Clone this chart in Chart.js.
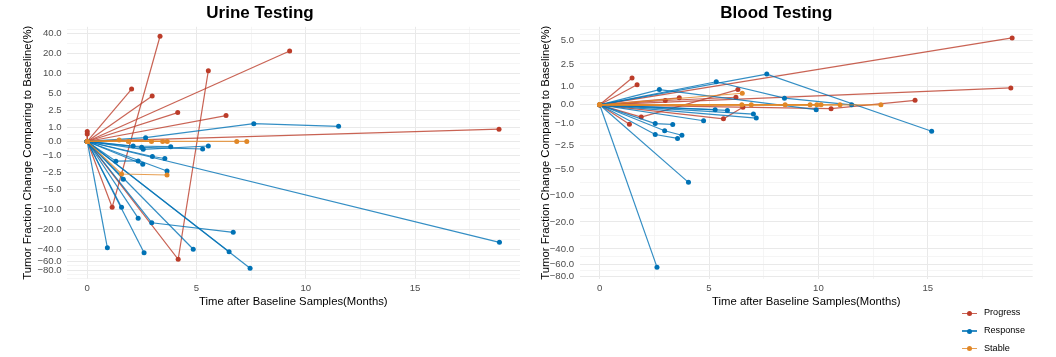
<!DOCTYPE html>
<html><head><meta charset="utf-8">
<script src="https://cdn.jsdelivr.net/npm/chart.js@4/dist/chart.umd.min.js"></script>
<style>
html,body{margin:0;padding:0;background:#fff;width:1056px;height:357px;overflow:hidden;position:relative;font-family:"Liberation Sans",Arial,sans-serif}
canvas{position:absolute;top:0}
#legend{position:absolute;left:955px;top:304.4px;font-size:9.1px;color:#000}
.item{position:relative;height:17.8px;line-height:17.8px;padding-left:29px;white-space:nowrap}
.key{position:absolute;left:7px;top:8.3px;width:15px;height:1.2px}
.dot{position:absolute;left:12px;top:6.4px;width:5px;height:5px;border-radius:50%}
</style></head><body>
<canvas id="c1" width="580" height="310" style="left:0px"></canvas>
<canvas id="c2" width="554" height="310" style="left:520px"></canvas>
<div id="legend"></div>
<script>
// ---- data (time in months, tumor fraction change in %) ----
const groups = ['Progress', 'Response', 'Stable'];
const groupColors = ['#BC3C29', '#0072B5', '#E18727'];
const lineColors = ['rgba(188,60,41,0.8)', 'rgba(0,114,181,0.8)', 'rgba(225,135,39,0.8)'];
const yBreaks = [-80, -60, -40, -20, -10, -5, -2.5, -1, 0, 1, 2.5, 5, 10, 20, 40];
const xBreaks = [0, 5, 10, 15];

const urineProgress = [
  [[0,0],[1.14,-9.3],[3.33,36.1]],
  [[0,0],[4.16,-55.5],[5.54,11.1]],
  [[0,0],[2.03,5.8]],
  [[0,0],[2.97,4.5]],
  [[0,0],[9.26,21.8]],
  [[0,0],[4.14,2.3]],
  [[0,0],[6.35,2.0]],
  [[0,0],[18.84,0.86]],
  [[0,0],[0,0.69]],
  [[0,0],[0,0.52]]
];
const urineResponse = [
  [[0,0],[2.67,0.26],[7.62,1.29],[11.5,1.08]],
  [[0,0],[18.86,-31.1]],
  [[0,0],[2.1,-0.31],[3.82,-0.36]],
  [[0,0],[2.49,-0.4],[5.28,-0.52]],
  [[0,0],[2.56,-0.54],[5.54,-0.31]],
  [[0,0],[1.31,-1.45],[2.33,-1.43]],
  [[0,0],[2.54,-1.72]],
  [[0,0],[2.98,-1.07],[3.55,-1.23]],
  [[0,0],[3.65,-2.37]],
  [[0,0],[1.65,-3.35]],
  [[0,0],[1.57,-9.3]],
  [[0,0],[2.33,-13.6]],
  [[0,0],[2.95,-15.9],[6.68,-22.1]],
  [[0,0],[0.92,-37.3]],
  [[0,0],[2.6,-44.3]],
  [[0,0],[4.85,-39.4]],
  [[0,0],[6.49,-42.8]],
  [[0,0],[7.45,-75.4]]
];
const urineStable = [
  [[0,0],[1.46,0.1],[3.45,0]],
  [[0,0],[1.88,0],[2.94,0],[3.66,0]],
  [[0,0],[6.84,0],[7.3,0]],
  [[0,0],[1.57,-2.7],[3.65,-2.82]]
];

const bloodProgress = [
  [[0,0],[18.86,5.36]],
  [[0,0],[18.8,0.89]],
  [[0,0],[10.58,-0.2],[14.42,0.23]],
  [[0,0],[1.48,1.48]],
  [[0,0],[1.71,1.07]],
  [[0,0],[1.36,-1.04]],
  [[0,0],[1.9,-0.64],[6.32,0.8]],
  [[0,0],[5.66,-0.73],[6.55,-0.12]],
  [[0,0],[3.0,0.22],[6.23,0.39]],
  [[0,0],[3.64,0.36]]
];
const bloodResponse = [
  [[0,0],[7.64,1.74],[15.18,-1.46]],
  [[0,0],[5.33,1.25],[8.45,0.34],[11.52,0]],
  [[0,0],[2.73,0.8],[9.9,-0.25]],
  [[0,0],[5.28,-0.25]],
  [[0,0],[5.84,-0.29]],
  [[0,0],[4.75,-0.84]],
  [[0,0],[7.03,-0.48]],
  [[0,0],[7.16,-0.69]],
  [[0,0],[2.54,-1.0],[3.34,-1.05]],
  [[0,0],[2.97,-1.43],[3.76,-1.72]],
  [[0,0],[2.54,-1.67],[3.56,-1.94]],
  [[0,0],[4.06,-7.14]],
  [[0,0],[2.62,-63.7]]
];
const bloodStable = [
  [[0,0],[6.52,0.6]],
  [[0,0],[6.5,0],[9.62,0]],
  [[0,0],[6.93,0],[10.12,0]],
  [[0,0],[8.48,0],[12.86,0]],
  [[0,0],[9.93,0],[10.99,0]]
];

// ---- pseudo-log (base 2) axis transform ----
const FONT = '"Liberation Sans", Arial, sans-serif';
const trans = v => Math.asinh(v / 2) / Math.LN2;

function majorMinor(breaksT, min, max) {
  const b = breaksT.filter(t => t >= min - 1e-9 && t <= max + 1e-9);
  const bb = b.slice();
  const bd = bb[1] - bb[0];
  if (min < bb[0]) bb.unshift(bb[0] - bd);
  if (max > bb[bb.length - 1]) bb.push(bb[bb.length - 1] + bd);
  const minor = [];
  for (let i = 0; i < bb.length - 1; i++) minor.push((bb[i] + bb[i + 1]) / 2);
  minor.push(bb[0], bb[bb.length - 1]);
  const mn = minor.filter(t => t >= min && t <= max && !b.some(m => Math.abs(m - t) < 1e-9));
  return {major: b, ticks: b.concat(mn).sort((a, c) => a - c)};
}
function fmtY(v) {
  for (const b of yBreaks) {
    if (Math.abs(trans(b) - v) < 1e-7) {
      const s = Math.abs(b).toFixed(1);
      return b < 0 ? '\u2212' + s : s;
    }
  }
  return '';
}
const gridColor = c => (c.tick && c.tick.label === '') ? '#f1f1f1' : '#e9e9e9';
const gridWidth = c => (c.tick && c.tick.label === '') ? 0.7 : 1;

function makeChart(id, title, sets, cfg) {
  const datasets = [];
  sets.forEach((set, gi) => {
    set.forEach(traj => {
      datasets.push({
        label: groups[gi],
        data: traj.map(p => ({x: p[0], y: trans(p[1])})),
        showLine: true,
        borderColor: lineColors[gi],
        backgroundColor: groupColors[gi],
        pointBackgroundColor: groupColors[gi],
        pointBorderColor: groupColors[gi],
        pointBorderWidth: 0,
        pointRadius: 2.5,
        borderWidth: 1.2,
        order: 3 - gi,
        clip: false
      });
    });
  });
  const yT = majorMinor(yBreaks.map(trans), cfg.ymin, cfg.ymax);
  const xT = majorMinor(xBreaks, cfg.xmin, cfg.xmax);
  return new Chart(document.getElementById(id), {
    type: 'scatter',
    data: {datasets},
    options: {
      responsive: false, animation: false, events: [],
      layout: {padding: {left: 0, right: cfg.padR, top: 0, bottom: 0}},
      plugins: {
        legend: {display: false}, tooltip: {enabled: false},
        title: {display: true, text: title, color: '#000',
          font: {family: FONT, size: 17, weight: 'bold'}, padding: {top: 3, bottom: 3.4}}
      },
      scales: {
        x: {
          type: 'linear', min: cfg.xmin, max: cfg.xmax,
          afterBuildTicks: s => { s.ticks = xT.ticks.map(v => ({value: v})); },
          afterFit: s => { s.height = 31.3; },
          ticks: {autoSkip: false, maxRotation: 0, padding: 4, color: '#4d4d4d',
            font: {family: FONT, size: 9.6},
            callback: v => xBreaks.includes(v) ? String(v) : ''},
          grid: {drawTicks: false, color: gridColor, lineWidth: gridWidth},
          border: {display: false},
          title: {display: true, text: 'Time after Baseline Samples(Months)', color: '#000',
            font: {family: FONT, size: 11.3}, padding: {top: 0, bottom: 1.3}}
        },
        y: {
          type: 'linear', min: cfg.ymin, max: cfg.ymax,
          afterBuildTicks: s => { s.ticks = yT.ticks.map(v => ({value: v})); },
          afterFit: s => { s.width = cfg.yw; },
          ticks: {autoSkip: false, padding: cfg.tickPad, color: '#4d4d4d',
            font: {family: FONT, size: 9.6}, callback: v => fmtY(v)},
          grid: {drawTicks: false, color: gridColor, lineWidth: gridWidth},
          border: {display: false},
          title: {display: true, text: 'Tumor Fraction Change Comparing to Baseline(%)', color: '#000',
            font: {family: FONT, size: 11.3}, padding: {top: cfg.titlePad, bottom: 0}}
        }
      }
    }
  });
}

makeChart('c1', 'Urine Testing', [urineProgress, urineResponse, urineStable],
  {xmin: -0.94, xmax: 19.8, ymin: -6.75, ymax: 5.64, yw: 66.7, padR: 60, tickPad: 5, titlePad: 21});
makeChart('c2', 'Blood Testing', [bloodProgress, bloodResponse, bloodStable],
  {xmin: -0.9, xmax: 19.8, ymin: -6.42, ymax: 2.88, yw: 60, padR: 41.3, tickPad: 6, titlePad: 18.8});

// legend
const lg = document.getElementById('legend');
groups.forEach((g, i) => {
  const it = document.createElement('div');
  it.className = 'item';
  it.innerHTML = '<span class="key" style="background:' + lineColors[i] + '"></span>' +
    '<span class="dot" style="background:' + groupColors[i] + '"></span>' + g;
  lg.appendChild(it);
});
</script>
</body></html>
